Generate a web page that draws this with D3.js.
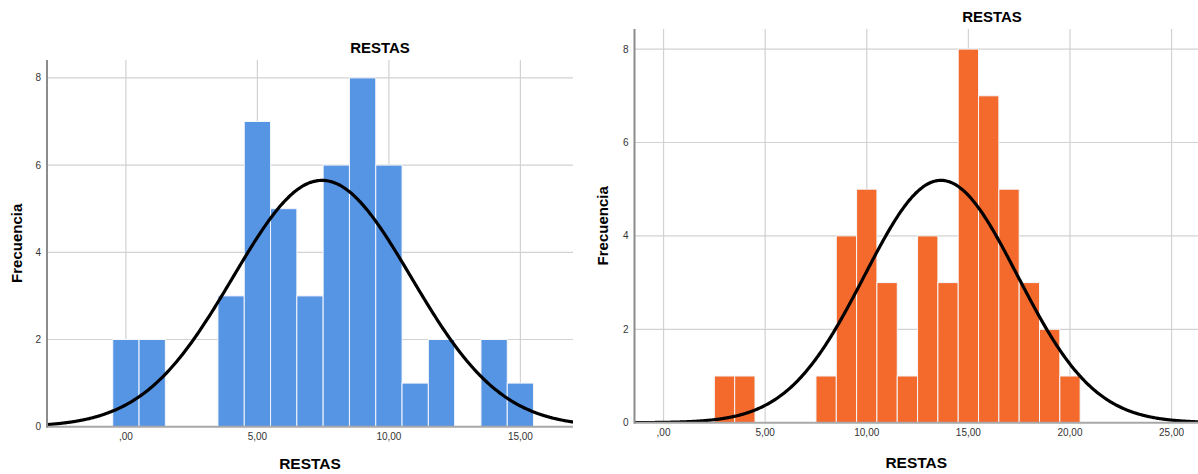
<!DOCTYPE html>
<html>
<head>
<meta charset="utf-8">
<script src="https://cdn.jsdelivr.net/npm/d3@7"></script>
<style>
  html, body { margin: 0; padding: 0; background: #fff; }
  svg { display: block; font-family: "Liberation Sans", Arial, sans-serif; }
</style>
</head>
<body>
<svg id="chart" width="1198" height="474"></svg>
<script>
// Histogram bins (integer bin centres, width 1) and their frequencies
const leftBins   = [0, 1, 4, 5, 6, 7, 8, 9, 10, 11, 12, 14, 15];
const leftCounts = [2, 2, 3, 7, 5, 3, 6, 8, 6, 1, 2, 2, 1];

const rightBins   = [3, 4, 8, 9, 10, 11, 12, 13, 14, 15, 16, 17, 18, 19, 20];
const rightCounts = [1, 1, 1, 4, 5, 3, 1, 4, 3, 8, 7, 5, 3, 2, 1];

const leftXTicks  = [0, 5, 10, 15];
const rightXTicks = [0, 5, 10, 15, 20, 25];
const yTicks      = [0, 2, 4, 6, 8];

const title = "RESTAS";
const xTitle = "RESTAS";
const yTitle = "Frecuencia";

// panel geometry
const panels = [
  { bins: leftBins, counts: leftCounts, xTicks: leftXTicks, color: "#5694e4",
    left: 47, right: 573, top: 60, base: 426.7, xDomain: [-3, 17], yMax: 8.41,
    titleX: 380, titleY: 53, xTitleY: 469, yTitleX: 22 },
  { bins: rightBins, counts: rightCounts, xTicks: rightXTicks, color: "#f36a2c",
    left: 634.5, right: 1198, top: 29, base: 422.7, xDomain: [-1.43, 26.3], yMax: 8.43,
    titleX: 992, titleY: 22, xTitleY: 468, yTitleX: 608 }
];

// tick labels use a decimal comma and drop the leading zero (",00")
const fmt = v => (v === 0 ? ",00" : d3.format(".2f")(v).replace(".", ","));

const svg = d3.select("#chart");

panels.forEach((p, i) => {
  const x = d3.scaleLinear().domain(p.xDomain).range([p.left, p.right]);
  const y = d3.scaleLinear().domain([0, p.yMax]).range([p.base, p.top]);
  const g = svg.append("g");

  const clipId = "clip" + i;
  svg.append("clipPath").attr("id", clipId)
    .append("rect").attr("x", p.left).attr("y", p.top - 5)
    .attr("width", p.right - p.left).attr("height", p.base - p.top + 5);

  // grid
  g.append("g").selectAll("line").data(p.xTicks).join("line")
    .attr("x1", d => x(d)).attr("x2", d => x(d))
    .attr("y1", p.top).attr("y2", p.base)
    .attr("stroke", "#d2d2d2").attr("stroke-width", 1.2);
  g.append("g").selectAll("line").data(yTicks.filter(d => d > 0)).join("line")
    .attr("x1", p.left).attr("x2", p.right)
    .attr("y1", d => y(d)).attr("y2", d => y(d))
    .attr("stroke", "#d2d2d2").attr("stroke-width", 1.2);

  // bars
  g.append("g").selectAll("rect").data(p.bins).join("rect")
    .attr("x", d => x(d - 0.5))
    .attr("width", d => x(d + 0.5) - x(d - 0.5))
    .attr("y", (d, j) => y(p.counts[j]))
    .attr("height", (d, j) => y(0) - y(p.counts[j]))
    .attr("fill", p.color)
    .attr("stroke", "#f4f6fa").attr("stroke-width", 1);

  // normal curve fitted to the binned data
  const n = d3.sum(p.counts);
  const mean = d3.sum(p.bins, (d, j) => d * p.counts[j]) / n;
  const variance = d3.sum(p.bins, (d, j) => p.counts[j] * (d - mean) ** 2) / (n - 1);
  const sd = Math.sqrt(variance);
  const xs = d3.range(p.xDomain[0] - 0.5, p.xDomain[1] + 0.5, 0.05);
  const dens = v => n * Math.exp(-0.5 * ((v - mean) / sd) ** 2) / (sd * Math.sqrt(2 * Math.PI));
  g.append("path")
    .datum(xs)
    .attr("clip-path", `url(#${clipId})`)
    .attr("fill", "none").attr("stroke", "#000").attr("stroke-width", 3.2)
    .attr("d", d3.line().x(d => x(d)).y(d => y(dens(d))).curve(d3.curveBasis));

  // axes
  g.append("line")
    .attr("x1", p.left).attr("x2", p.right).attr("y1", p.base).attr("y2", p.base)
    .attr("stroke", "#a8a8a8").attr("stroke-width", 2);
  g.append("line")
    .attr("x1", p.left).attr("x2", p.left).attr("y1", p.top).attr("y2", p.base + 1)
    .attr("stroke", "#8c8c8c").attr("stroke-width", 2);

  // tick labels
  g.append("g").selectAll("text").data(yTicks).join("text")
    .attr("x", p.left - 6).attr("y", d => y(d)).attr("dy", "0.35em")
    .attr("text-anchor", "end").attr("font-size", 10).attr("fill", "#333")
    .text(d => d);
  g.append("g").selectAll("text").data(p.xTicks).join("text")
    .attr("x", d => x(d)).attr("y", p.base + 10).attr("dy", "0.35em")
    .attr("text-anchor", "middle").attr("font-size", 10).attr("fill", "#333")
    .text(fmt);

  // titles
  g.append("text").attr("x", p.titleX).attr("y", p.titleY)
    .attr("text-anchor", "middle").attr("font-size", 15).attr("font-weight", "bold")
    .text(title);
  g.append("text").attr("x", (p.left + p.right) / 2).attr("y", p.xTitleY)
    .attr("text-anchor", "middle").attr("font-size", 15.5).attr("font-weight", "bold")
    .text(xTitle);
  g.append("text")
    .attr("transform", `translate(${p.yTitleX},${(p.top + p.base) / 2}) rotate(-90)`)
    .attr("text-anchor", "middle").attr("font-size", 15).attr("font-weight", "bold")
    .text(yTitle);
});
</script>
</body>
</html>
